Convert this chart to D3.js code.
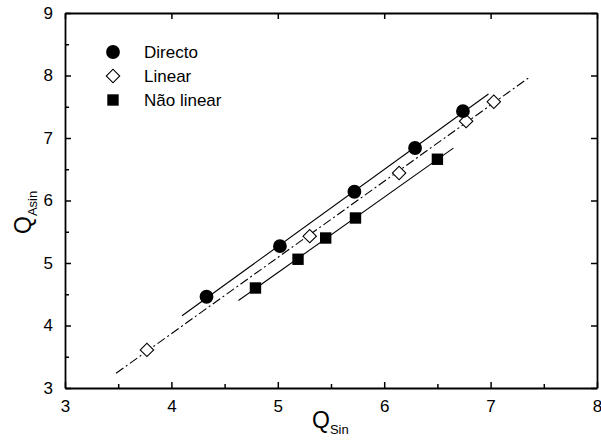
<!DOCTYPE html>
<html>
<head>
<meta charset="utf-8">
<script src="https://cdn.jsdelivr.net/npm/d3@7"></script>
<style>
  html, body { margin: 0; padding: 0; background: #fff; }
  svg { display: block; font-family: "Liberation Sans", Arial, Helvetica, sans-serif; }
</style>
</head>
<body>
<svg id="chart" width="601" height="440"></svg>
<script>
// Series values
const directoX = [4.33, 5.02, 5.72, 6.29, 6.74];
const directoY = [4.46, 5.27, 6.14, 6.84, 7.43];
const linearX  = [3.77, 5.30, 6.14, 6.77, 7.03];
const linearY  = [3.61, 5.43, 6.44, 7.27, 7.58];
const naoX     = [4.79, 5.19, 5.45, 5.73, 6.50];
const naoY     = [4.60, 5.06, 5.40, 5.72, 6.66];

// x extent over which each regression line is drawn
const directoFitRange = [4.10, 6.98];
const linearFitRange  = [3.48, 7.36];
const naoFitRange     = [4.63, 6.65];

const legendLabels = ["Directo", "Linear", "Não linear"];
const xTicks = [3, 4, 5, 6, 7, 8];
const yTicks = [3, 4, 5, 6, 7, 8, 9];

const svg = d3.select("#chart");
const margin = {left: 65, right: 4, top: 13, bottom: 52};
const W = 601, H = 440;

const x = d3.scaleLinear().domain([3, 8]).range([margin.left, W - margin.right]);
const y = d3.scaleLinear().domain([3, 9]).range([H - margin.bottom, margin.top]);

// least-squares fit
function fit(xs, ys) {
  const n = xs.length;
  const mx = d3.mean(xs), my = d3.mean(ys);
  let sxy = 0, sxx = 0;
  for (let i = 0; i < n; i++) { sxy += (xs[i] - mx) * (ys[i] - my); sxx += (xs[i] - mx) ** 2; }
  const b = sxy / sxx;
  return v => my + b * (v - mx);
}

const line = d3.line().x(d => x(d[0])).y(d => y(d[1]));
function drawFit(xs, ys, range, dash) {
  const f = fit(xs, ys);
  svg.append("path")
    .attr("d", line(range.map(v => [v, f(v)])))
    .attr("fill", "none").attr("stroke", "#000").attr("stroke-width", 1.1)
    .attr("stroke-dasharray", dash);
}
drawFit(directoX, directoY, directoFitRange, null);
drawFit(linearX, linearY, linearFitRange, "9,3,2,3");
drawFit(naoX, naoY, naoFitRange, null);

// axes: ticks point inward
const fmt = d3.format("d");
const minorX = d3.range(3.5, 8, 1);
const minorY = d3.range(3.5, 9, 1);

const gBottom = svg.append("g").attr("transform", `translate(0,${y(3)})`);
gBottom.call(d3.axisBottom(x).tickValues(xTicks).tickFormat(fmt).tickSizeInner(-6).tickSizeOuter(0).tickPadding(12));
gBottom.append("g").call(d3.axisBottom(x).tickValues(minorX).tickFormat("").tickSizeInner(-4).tickSizeOuter(0))
  .select(".domain").remove();

const gLeft = svg.append("g").attr("transform", `translate(${x(3)},0)`);
gLeft.call(d3.axisLeft(y).tickValues(yTicks).tickFormat(fmt).tickSizeInner(-6).tickSizeOuter(0).tickPadding(12));
gLeft.append("g").call(d3.axisLeft(y).tickValues(minorY).tickFormat("").tickSizeInner(-4).tickSizeOuter(0))
  .select(".domain").remove();

const gTop = svg.append("g").attr("transform", `translate(0,${y(9)})`);
gTop.call(d3.axisTop(x).tickValues(xTicks).tickFormat("").tickSizeInner(-6).tickSizeOuter(0));

const gRight = svg.append("g").attr("transform", `translate(${x(8)},0)`);
gRight.call(d3.axisRight(y).tickValues(yTicks).tickFormat("").tickSizeInner(-6).tickSizeOuter(0));

svg.selectAll(".domain").attr("stroke", "#000").attr("stroke-width", 1.8);
svg.selectAll(".tick line").attr("stroke", "#000").attr("stroke-width", 1.5);
svg.selectAll(".tick text").attr("font-size", 17).attr("fill", "#000")
  .attr("font-family", "'Liberation Sans', Arial, sans-serif");

// markers
const sym = {
  circle: d3.symbol().type(d3.symbolCircle).size(150),
  square: d3.symbol().type(d3.symbolSquare).size(130),
  diamond: d3.symbol().type(d3.symbolSquare).size(90)
};
function drawPoints(xs, ys, kind) {
  const pts = xs.map((v, i) => [v, ys[i]]);
  const g = svg.append("g");
  g.selectAll("path").data(pts).join("path")
    .attr("d", sym[kind]())
    .attr("transform", d => `translate(${x(d[0])},${y(d[1])})` + (kind === "diamond" ? " rotate(45)" : ""))
    .attr("fill", kind === "diamond" ? "#fff" : "#000")
    .attr("stroke", "#000")
    .attr("stroke-width", kind === "diamond" ? 1.1 : 0);
}
drawPoints(linearX, linearY, "diamond");
drawPoints(directoX, directoY, "circle");
drawPoints(naoX, naoY, "square");

// legend
const legendKinds = ["circle", "diamond", "square"];
const lg = svg.append("g").attr("transform", "translate(113,52)");
legendLabels.forEach((lab, i) => {
  const row = lg.append("g").attr("transform", `translate(0,${i * 24})`);
  row.append("path").attr("d", sym[legendKinds[i]]())
    .attr("transform", legendKinds[i] === "diamond" ? "rotate(45)" : null)
    .attr("fill", legendKinds[i] === "diamond" ? "#fff" : "#000")
    .attr("stroke", "#000").attr("stroke-width", legendKinds[i] === "diamond" ? 1.1 : 0);
  row.append("text").attr("x", 31).attr("y", 6).attr("font-size", 17).text(lab);
});

// axis titles
const xt = svg.append("text").attr("x", 312).attr("y", 428).attr("font-size", 23);
xt.append("tspan").text("Q");
xt.append("tspan").attr("font-size", 13).attr("dy", 6).text("Sin");

const yt = svg.append("text").attr("transform", "translate(31,234) rotate(-90)").attr("font-size", 23);
yt.append("tspan").text("Q");
yt.append("tspan").attr("font-size", 13).attr("dy", 6).text("Asin");
</script>
</body>
</html>
